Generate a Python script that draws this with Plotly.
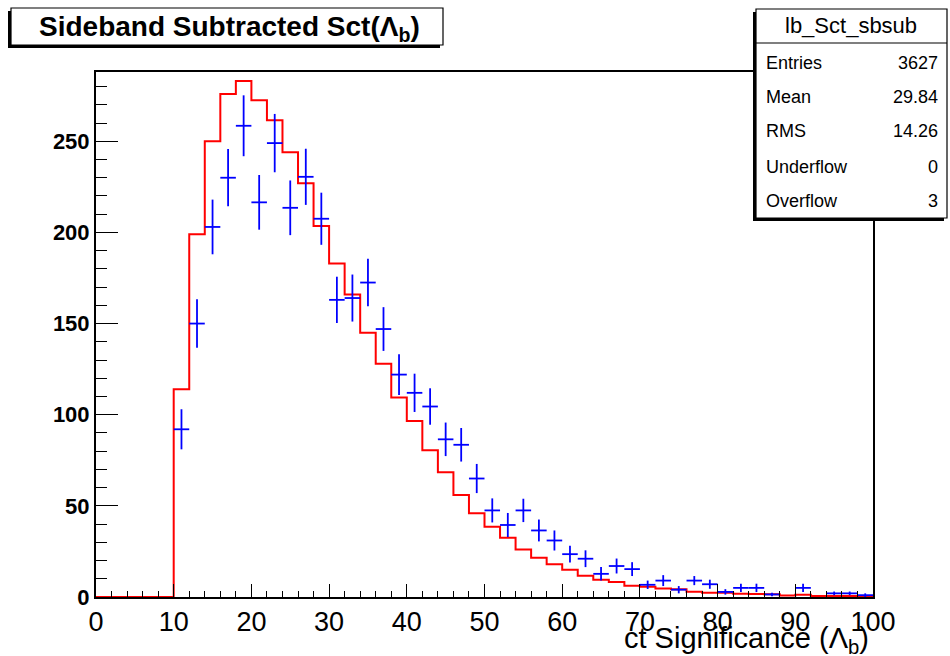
import plotly.graph_objects as go

# ---------------- data ----------------
x_low, x_high, bin_width = 0, 100, 2
red_counts = [0, 0, 0, 0, 0,
              114, 199, 250, 276, 283,
              272.5, 261.5, 244, 227, 203.5,
              183, 166, 145, 128, 109.5,
              96.5, 80.5, 68.5, 56, 46,
              38.5, 32.5, 26, 21.5, 18,
              15, 11.7, 9.5, 8.2, 6.2,
              5.6, 4.6, 4.2, 2.9, 2.4,
              2.4, 1.8, 1.6, 1.5, 0.8,
              1.2, 0.5, 0.5, 0.5, 0.3]

blue_centers = [11, 13, 15, 17, 19, 21, 23, 25, 27, 29,
                31, 33, 35, 37, 39, 41, 43, 45, 47, 49,
                51, 53, 55, 57, 59, 61, 63, 65, 67, 69,
                71, 73, 75, 77, 79, 81, 83, 85, 87, 91,
                95, 97, 99]
blue_values = [92, 150, 203, 230, 258.5, 216.5, 249, 213.5, 230.5, 207.5,
               163, 164, 172.5, 147, 122, 112, 104.5, 86.5, 83.5, 65,
               47.5, 39.5, 47.5, 36.5, 31, 23.5, 21, 12.7, 17, 15.3,
               6.7, 9, 4, 9, 7, 2.8, 5, 5, 1.4, 5,
               2, 2, 1]
blue_errors = [11, 13.3, 15, 15.7, 16.7, 15, 16, 15, 15.4, 14.3,
               12.7, 12.9, 13, 12, 11.2, 10.5, 10, 9.2, 9.2, 8,
               6.6, 6.6, 6.4, 6, 5.5, 4.6, 4.6, 3.7, 4.1, 3.8,
               2.3, 3, 2, 2.5, 2.5, 1.5, 2.3, 2.3, 1, 2.3,
               1, 1, 1]

title_text = "Sideband Subtracted Sct(Λ<sub>b</sub>)"
xaxis_title = "ct Significance (Λ<sub>b</sub>)"
stat_name = "lb_Sct_sbsub"
stat_labels = ["Entries", "Mean", "RMS", "Underflow", "Overflow"]
stat_values = ["3627", "29.84", "14.26", "0", "3"]
y_max = 288

# ---------------- figure ----------------
W, H = 950, 656
L, R, T, B = 96, 77, 72, 59
PW, PH = W - L - R, H - T - B

def px(x):
    return (x - L) / PW

def py(y):
    return (H - B - y) / PH

edges = [x_low + i * bin_width for i in range(len(red_counts) + 1)]
red_y = red_counts + [red_counts[-1]]

FONT = "Liberation Sans, Arial, Helvetica, sans-serif"

fig = go.Figure()
fig.add_trace(go.Scatter(
    x=edges, y=red_y, mode="lines", line=dict(color="#ff0000", width=2, shape="hv"),
    hoverinfo="skip", showlegend=False))
fig.add_trace(go.Scatter(
    x=blue_centers, y=blue_values, mode="markers",
    marker=dict(size=1, color="#0000ff", opacity=0),
    error_y=dict(type="data", array=blue_errors, visible=True, color="#0000ff", thickness=1.8, width=0),
    error_x=dict(type="constant", value=bin_width / 2, visible=True, color="#0000ff", thickness=1.8, width=0),
    showlegend=False))

shapes = []
# title box with shadow (bottom-left)
shapes.append(dict(type="rect", xref="paper", yref="paper",
                   x0=px(8), x1=px(440), y0=py(48), y1=py(11),
                   fillcolor="black", line=dict(width=0), layer="above"))
shapes.append(dict(type="rect", xref="paper", yref="paper",
                   x0=px(11), x1=px(443), y0=py(45), y1=py(8),
                   fillcolor="white", line=dict(color="black", width=1.2), layer="above"))
# stats box with shadow
shapes.append(dict(type="rect", xref="paper", yref="paper",
                   x0=px(753), x1=px(944), y0=py(221), y1=py(12),
                   fillcolor="black", line=dict(width=0), layer="above"))
shapes.append(dict(type="rect", xref="paper", yref="paper",
                   x0=px(756), x1=px(947), y0=py(218), y1=py(9),
                   fillcolor="white", line=dict(color="black", width=1.2), layer="above"))
shapes.append(dict(type="line", xref="paper", yref="paper",
                   x0=px(756), x1=px(947), y0=py(43), y1=py(43),
                   line=dict(color="black", width=1.2), layer="above"))

annotations = []
annotations.append(dict(text=f"<b>{title_text}</b>", xref="paper", yref="paper",
                        x=px(229), y=py(29), xanchor="center", yanchor="middle",
                        showarrow=False, font=dict(family=FONT, size=28, color="black")))
annotations.append(dict(text=stat_name, xref="paper", yref="paper",
                        x=px(851), y=py(26), xanchor="center", yanchor="middle",
                        showarrow=False, font=dict(family=FONT, size=22, color="black")))
row_y = [63, 97, 131, 167, 201]
for lab, val, yy in zip(stat_labels, stat_values, row_y):
    annotations.append(dict(text=lab, xref="paper", yref="paper", x=px(764), y=py(yy),
                            xanchor="left", yanchor="middle", showarrow=False,
                            font=dict(family=FONT, size=18, color="black")))
    annotations.append(dict(text=val, xref="paper", yref="paper", x=px(940), y=py(yy),
                            xanchor="right", yanchor="middle", showarrow=False,
                            font=dict(family=FONT, size=18, color="black")))
annotations.append(dict(text=xaxis_title, xref="paper", yref="paper", x=px(871), y=py(620),
                        xanchor="right", yanchor="top", showarrow=False,
                        font=dict(family=FONT, size=29, color="black")))

fig.update_layout(
    width=W, height=H,
    margin=dict(l=L, r=R, t=T, b=B, pad=0),
    paper_bgcolor="white", plot_bgcolor="white",
    showlegend=False,
    shapes=shapes, annotations=annotations,
    xaxis=dict(range=[x_low, x_high], showgrid=False, zeroline=False,
               showline=True, linecolor="black", linewidth=2, mirror=True,
               ticks="inside", ticklen=13, tickwidth=1, tickcolor="black",
               tick0=0, dtick=10,
               minor=dict(ticks="inside", ticklen=6, dtick=2, tickcolor="black", tickwidth=1, showgrid=False),
               tickfont=dict(family=FONT, size=27, color="black")),
    yaxis=dict(range=[0, y_max], showgrid=False, zeroline=False,
               showline=True, linecolor="black", linewidth=2, mirror=True,
               ticks="inside", ticklen=22, tickwidth=1, tickcolor="black",
               tick0=0, dtick=50,
               minor=dict(ticks="inside", ticklen=11, dtick=10, tickcolor="black", tickwidth=1, showgrid=False),
               tickfont=dict(family=FONT, size=22, color="black", weight="bold")),
)

fig.write_html("out.html")
